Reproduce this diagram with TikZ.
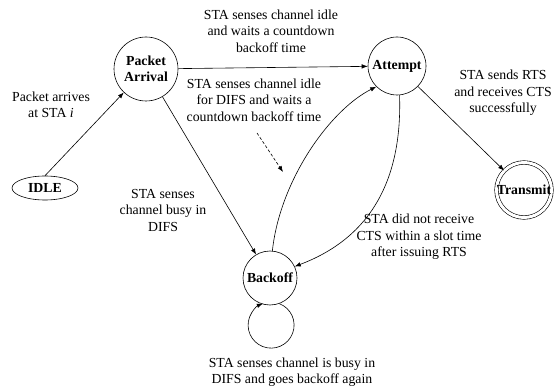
\documentclass[tikz,border=0pt]{standalone}
\usepackage{fontspec}
\setmainfont{Liberation Serif}
\usetikzlibrary{arrows.meta,shapes.geometric}
\begin{document}
\begin{tikzpicture}[x=1pt,y=-1pt,
  every node/.style={font=\fontsize{13.8}{16.5}\selectfont},
  statebase/.style={draw,line width=0.6pt,font=\fontsize{13.8}{16.5}\selectfont\bfseries,inner sep=1pt,align=center},
  state/.style={statebase,circle},
  lbl/.style={align=center,inner sep=0pt},
  arr/.style={draw,line width=0.6pt,-{Latex[length=6pt,width=4.5pt]}},
]
\useasboundingbox (0,0) rectangle (556,387);

\node[statebase,ellipse,minimum width=66pt,minimum height=24pt,inner sep=0pt] (idle) at (45,188) {IDLE};
\node[state,minimum size=64pt] (pa) at (146,69) {Packet\\Arrival};
\node[state,minimum size=58pt] (att) at (397,66) {Attempt};
\node[state,minimum size=54pt,inner sep=0pt,double,double distance=3pt] (tx) at (524,190) {Transmit};
\node[state,minimum size=54pt] (bo) at (270,278) {Backoff};

\node[lbl] (l1) at (271,31) {STA senses channel idle\\and waits a countdown\\backoff time};
\node[lbl] (l2) at (254,100) {STA senses channel idle\\for DIFS and waits a\\countdown backoff time};
\node[lbl] (l3) at (51,105) {Packet arrives\\at STA \textit{i}};
\node[lbl] (l4) at (163,210) {STA senses\\channel busy in\\DIFS};
\node[lbl] (l5) at (419,237) {STA did not receive\\CTS within a slot time\\after issuing RTS};
\node[lbl] (l6) at (503,93) {STA sends RTS\\and receives CTS\\successfully};
\node[lbl] (l7) at (292,372) {STA senses channel is busy in\\DIFS and goes backoff again};

\draw[arr] (idle.north) -- (pa);
\draw[arr] (pa) -- (att);
\draw[arr] (pa) -- (bo);
\draw[arr] (att) -- (tx);
\draw[arr] (bo.85) .. controls (280,180) and (330,110) .. (att.225);
\draw[arr] (att.-85) .. controls (402,170) and (378,235) .. (bo.25);
\draw[arr] (bo.-70) arc[start angle=69, end angle=-249, radius=23pt];

\coordinate (d1) at (257,133);
\coordinate (d2) at (283,172);
\draw[arr,dash pattern=on 3pt off 2pt] (d1) -- (d2);
\end{tikzpicture}
\end{document}
